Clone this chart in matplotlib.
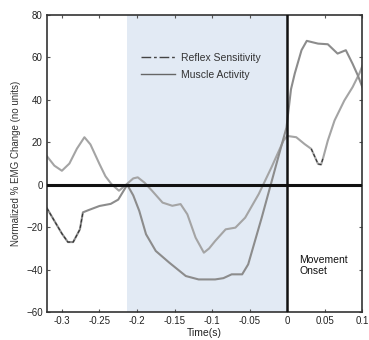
import matplotlib
matplotlib.use("Agg")
import matplotlib.pyplot as plt
from matplotlib.lines import Line2D

plt.rcParams['font.family'] = ['Liberation Sans', 'DejaVu Sans']

# reflex sensitivity curve
t_reflex = [-0.320, -0.310, -0.300, -0.290, -0.280, -0.270, -0.262, -0.250, -0.242,
            -0.234, -0.224, -0.213, -0.205, -0.199, -0.190, -0.180, -0.166, -0.153,
            -0.142, -0.133, -0.122, -0.111, -0.104, -0.096, -0.082, -0.069, -0.056,
            -0.038, -0.021, -0.005, 0.000, 0.012, 0.023, 0.032, 0.041, 0.045, 0.048,
            0.054, 0.063, 0.076, 0.087, 0.096, 0.100]
reflex = [13.5, 9.0, 6.6, 10.0, 17.0, 22.4, 19.0, 9.8, 4.0,
          0.3, -2.8, 0.5, 3.0, 3.5, 1.0, -2.8, -8.4, -9.9,
          -9.1, -13.9, -24.9, -32.0, -30.0, -26.5, -21.0, -20.2, -15.5,
          -4.4, 8.2, 20.8, 23.0, 22.4, 19.2, 16.9, 9.8, 9.5, 12.9,
          20.8, 30.3, 39.7, 46.0, 52.4, 56.0]

# muscle activity curve
t_muscle = [-0.320, -0.310, -0.300, -0.292, -0.285, -0.276, -0.272, -0.265, -0.250,
            -0.235, -0.225, -0.213, -0.205, -0.197, -0.188, -0.175, -0.157, -0.135,
            -0.118, -0.096, -0.085, -0.074, -0.060, -0.052, -0.043, -0.034, -0.023,
            -0.012, -0.001, 0.005, 0.010, 0.019, 0.026, 0.041, 0.054, 0.067, 0.078,
            0.087, 0.094, 0.100]
muscle = [-11.0, -17.0, -23.0, -27.0, -27.0, -21.0, -13.0, -12.0, -10.0,
          -9.0, -7.0, 0.0, -5.0, -12.3, -23.3, -31.2, -36.7, -43.0,
          -44.6, -44.6, -44.0, -42.2, -42.2, -37.5, -26.5, -15.5, -1.3,
          12.9, 27.0, 45.0, 52.4, 63.4, 67.8, 66.5, 66.2, 61.8, 63.4,
          57.0, 51.5, 46.0]

xticks = [-0.3, -0.25, -0.2, -0.15, -0.1, -0.05, 0, 0.05, 0.1]
xticklabels = ['-0.3', '-0.25', '-0.2', '-0.15', '-0.1', '-0.05', '0', '0.05', '0.1']
yticks = [-60, -40, -20, 0, 20, 40, 60, 80]
shade_start = -0.213

fig = plt.figure(figsize=(3.69, 3.40), dpi=100)
ax = fig.add_axes([0.127, 0.082, 0.855, 0.874])

ax.axvspan(shade_start, 0, color='#e2eaf4', zorder=0, lw=0)

ax.plot(t_reflex, reflex, color='#a4a4a4', lw=1.5, zorder=2)
ax.plot(t_muscle, muscle, color='#8c8c8c', lw=1.5, zorder=2)
# darker dashed bits seen in the scan
ax.plot(t_muscle[:7], muscle[:7], color='#333333', lw=0.8, ls=(0, (3, 2)), zorder=3)
ax.plot(t_reflex[33:37], reflex[33:37], color='#333333', lw=0.8, ls=(0, (3, 2)), zorder=3)

ax.axhline(0, color='#111111', lw=2.2, zorder=4)
ax.axvline(0, color='#111111', lw=1.8, zorder=4)

ax.set_xlim(-0.32, 0.1)
ax.set_ylim(-60, 80)
ax.set_xticks(xticks)
ax.set_xticklabels(xticklabels)
ax.set_yticks(yticks)
ax.tick_params(direction='in', length=2.5, width=0.8, labelsize=7,
               top=True, right=True, labelcolor='#222222', color='#555555', pad=3)
for s in ax.spines.values():
    s.set_color('#333333')
    s.set_linewidth(1.2)

ax.set_xlabel('Time(s)', fontsize=7.5, color='#222222', labelpad=1)
ax.set_ylabel('Normalized % EMG Change (no units)', fontsize=7, color='#333333', labelpad=4)

handles = [Line2D([0], [0], color='#444444', lw=1, dashes=[7, 2, 2, 2]),
           Line2D([0], [0], color='#666666', lw=1)]
ax.legend(handles, ['Reflex Sensitivity', 'Muscle Activity'], loc='upper left',
          bbox_to_anchor=(0.27, 0.905), frameon=False, fontsize=7.5,
          handlelength=3.2, labelspacing=0.7, handletextpad=0.6,
          labelcolor='#333333')

ax.text(0.016, -38, 'Movement\nOnset', fontsize=7.5, color='#111111',
        va='center', ha='left', linespacing=1.2)

fig.savefig('out.png', dpi=100)
